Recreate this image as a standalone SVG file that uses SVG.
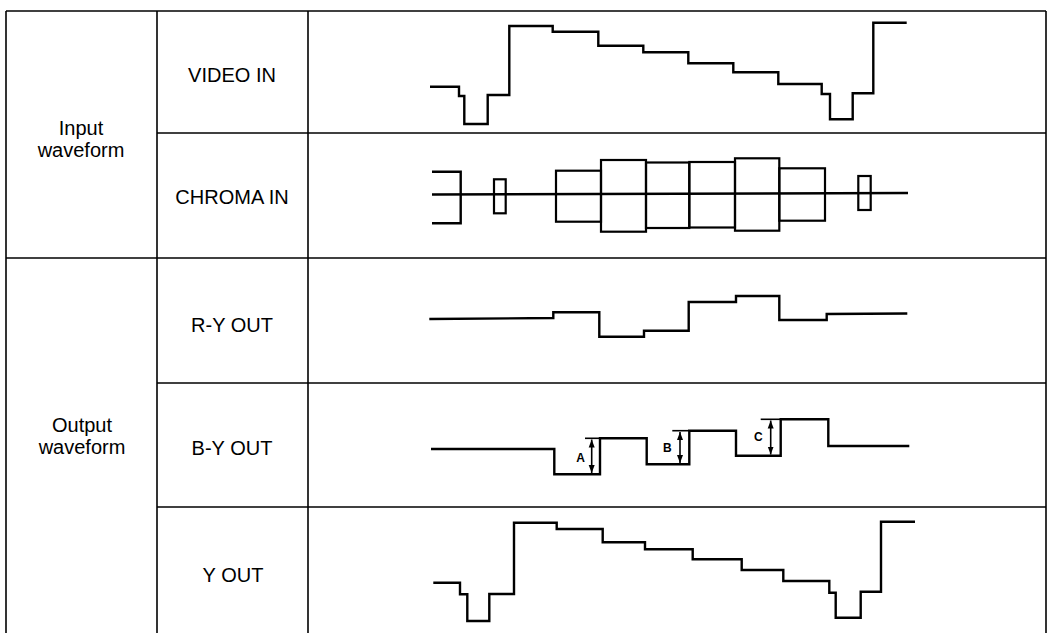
<svg xmlns="http://www.w3.org/2000/svg" width="1052" height="633" viewBox="0 0 1052 633">
<style>
  .grid line { stroke: #000; stroke-width: 1.6; }
  .lbl { font-family: "Liberation Sans", Arial, sans-serif; font-size: 20px; fill: #000; text-anchor: middle; }
  .wave { fill: none; stroke: #000; stroke-width: 2.4; stroke-linejoin: miter; }
  .box { fill: none; stroke: #000; stroke-width: 2.2; }
  .dim { stroke: #000; stroke-width: 1.6; fill: none; }
  .tag { font-family: "Liberation Sans", Arial, sans-serif; font-size: 12px; font-weight: bold; fill: #000; text-anchor: middle; }
</style>
<defs>
  <marker id="ah" viewBox="0 0 8 8" refX="8" refY="4" markerWidth="8" markerHeight="8" markerUnits="userSpaceOnUse" orient="auto-start-reverse">
    <path d="M0,1 L8,4 L0,7 Z" fill="#000"/>
  </marker>
</defs>
<rect width="1052" height="633" fill="#fff"/>

<g id="grid" class="grid">
  <line x1="6" y1="11" x2="1046" y2="11"/>
  <line x1="6" y1="11" x2="6" y2="633"/>
  <line x1="1046" y1="11" x2="1046" y2="633"/>
  <line x1="157" y1="11" x2="157" y2="633"/>
  <line x1="308" y1="11" x2="308" y2="633"/>
  <line x1="157" y1="133" x2="1046" y2="133"/>
  <line x1="6" y1="258" x2="1046" y2="258"/>
  <line x1="157" y1="383" x2="1046" y2="383"/>
  <line x1="157" y1="507" x2="1046" y2="507"/>
</g>

<g id="input-waveform">
  <text class="lbl" x="81" y="135">Input</text>
  <text class="lbl" x="81" y="157">waveform</text>
</g>
<g id="output-waveform">
  <text class="lbl" x="82" y="432">Output</text>
  <text class="lbl" x="82" y="454">waveform</text>
</g>

<g id="video-in">
  <text class="lbl" x="232" y="82">VIDEO IN</text>
  <polyline class="wave" points="430,86.7 459,86.7 459,96 464.3,96 464.3,124 487.7,124 487.7,95 509.3,95 509.3,26 552.7,26 552.7,31.7 598.3,31.7 598.3,45.7 643.3,45.7 643.3,52.3 688.3,52.3 688.3,63.3 733.3,63.3 733.3,72.3 778.3,72.3 778.3,84 821.7,84 821.7,94 830,94 830,119.3 852.7,119.3 852.7,93.3 873.3,93.3 873.3,22.7 906.7,22.7"/>
</g>

<g id="chroma-in">
  <text class="lbl" x="232" y="204">CHROMA IN</text>
  <line class="wave" x1="432" y1="194.5" x2="908" y2="193"/>
  <polyline class="wave" points="432,171.7 460.7,171.7 460.7,223.3 432,223.3"/>
  <rect class="box" x="494" y="179.3" width="11.7" height="34"/>
  <rect class="box" x="556" y="170.7" width="45" height="51"/>
  <rect class="box" x="601" y="160" width="45" height="71.7"/>
  <rect class="box" x="646" y="162.5" width="43.3" height="65.5"/>
  <rect class="box" x="689.3" y="162" width="45.7" height="65.5"/>
  <rect class="box" x="735" y="158.3" width="44.3" height="72.4"/>
  <rect class="box" x="779.3" y="168.3" width="45.7" height="52.4"/>
  <rect class="box" x="858.3" y="176" width="12.4" height="34"/>
</g>

<g id="r-y-out">
  <text class="lbl" x="232" y="332">R-Y OUT</text>
  <polyline class="wave" points="429.3,319 553.3,318 553.3,312.3 599.3,312.3 599.3,336.7 644,336.7 644,330.7 688.7,330.7 688.7,302 736,302 736,296 779.3,296 779.3,320 826.7,320 826.7,314 907.3,313.5"/>
</g>

<g id="b-y-out">
  <text class="lbl" x="232" y="455">B-Y OUT</text>
  <polyline class="wave" points="431,449 554.3,449 554.3,474.3 600,474.3 600,438.3 646.7,438.3 646.7,464.3 689.3,464.3 689.3,430.7 736,430.7 736,455.7 780.7,455.7 780.7,419.3 828.3,419.3 828.3,446 909.3,446"/>
  <line class="dim" x1="585" y1="438.3" x2="600" y2="438.3"/>
  <line class="dim" x1="591.7" y1="439.5" x2="591.7" y2="473" marker-start="url(#ah)" marker-end="url(#ah)"/>
  <text class="tag" x="580.7" y="462">A</text>
  <line class="dim" x1="672.3" y1="430.7" x2="689.3" y2="430.7"/>
  <line class="dim" x1="680" y1="432" x2="680" y2="463" marker-start="url(#ah)" marker-end="url(#ah)"/>
  <text class="tag" x="667.3" y="451.5">B</text>
  <line class="dim" x1="760.7" y1="419.3" x2="780.7" y2="419.3"/>
  <line class="dim" x1="770.7" y1="420.5" x2="770.7" y2="454.5" marker-start="url(#ah)" marker-end="url(#ah)"/>
  <text class="tag" x="758.3" y="441">C</text>
</g>

<g id="y-out">
  <text class="lbl" x="233" y="582">Y OUT</text>
  <polyline class="wave" points="433.3,582.7 460,582.7 460,594.3 467.3,594.3 467.3,621 489.3,621 489.3,594 514,594 514,522.7 556.7,522.7 556.7,529 602.7,529 602.7,542.3 645,542.3 645,549.3 692.7,549.3 692.7,559.3 741.7,559.3 741.7,570 783.3,570 783.3,581 829.3,581 829.3,592.7 835.7,592.7 835.7,617.7 860.7,617.7 860.7,591.7 881,591.7 881,521.7 915,521.7"/>
</g>
</svg>
